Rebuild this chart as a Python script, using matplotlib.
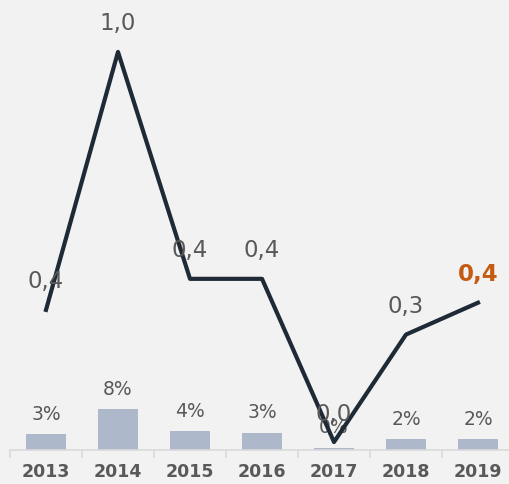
import matplotlib
matplotlib.use('Agg')
import matplotlib.pyplot as plt

years = ["2013", "2014", "2015", "2016", "2017", "2018", "2019"]
share = [0.031, 0.080, 0.037, 0.034, 0.004, 0.021, 0.021]
ratio = [0.352, 1.0, 0.43, 0.43, 0.02, 0.29, 0.37]

bg = "#f2f2f2"
text_col = "#595959"
plt.rcParams['font.family'] = ['DejaVu Sans']

fig = plt.figure(figsize=(5.1, 4.85), dpi=100, facecolor=bg)
ax = fig.add_axes([10 / 510, 34 / 485, 504 / 510, 451 / 485])
ax.set_facecolor(bg)
x = list(range(len(years)))

ax.bar(x, share, width=0.55, color="#adb9ca", zorder=2)
ax.set_xlim(-0.5, 6.5)
ax.set_ylim(0, 0.884)
for xi, v in zip(x, share):
    ax.annotate("{:.0%}".format(v), (xi, v), xytext=(0, 21), textcoords="offset pixels",
                ha="center", va="center", fontsize=13.5, color=text_col)

for s in ["top", "right", "left"]:
    ax.spines[s].set_visible(False)
ax.spines["bottom"].set_color("#d9d9d9")
ax.spines["bottom"].set_linewidth(1.2)
ax.set_yticks([])
ax.set_xticks([i - 0.5 for i in range(len(years) + 1)])
ax.set_xticklabels([])
ax.tick_params(axis="x", length=6, color="#d9d9d9", width=1.2)
ax.set_xticks(x, minor=True)
ax.set_xticklabels(years, minor=True, fontsize=12.5, fontweight="bold", color=text_col)
ax.tick_params(axis="x", which="minor", length=0, pad=9)

ax2 = ax.twinx()
ax2.set_ylim(0, 1.133)
ax2.plot(x, ratio, color="#1f2a37", linewidth=3, zorder=3)
for s in ax2.spines.values():
    s.set_visible(False)
ax2.set_yticks([])
for i, (xi, v) in enumerate(zip(x, ratio)):
    last = i == len(ratio) - 1
    ax2.annotate("{:.1f}".format(v).replace(".", ","), (xi, v), xytext=(0, 29),
                 textcoords="offset pixels", ha="center", va="center", fontsize=16.5,
                 color="#c55a11" if last else text_col,
                 fontweight="bold" if last else "normal")

fig.savefig("out.png", dpi=100, facecolor=bg)
